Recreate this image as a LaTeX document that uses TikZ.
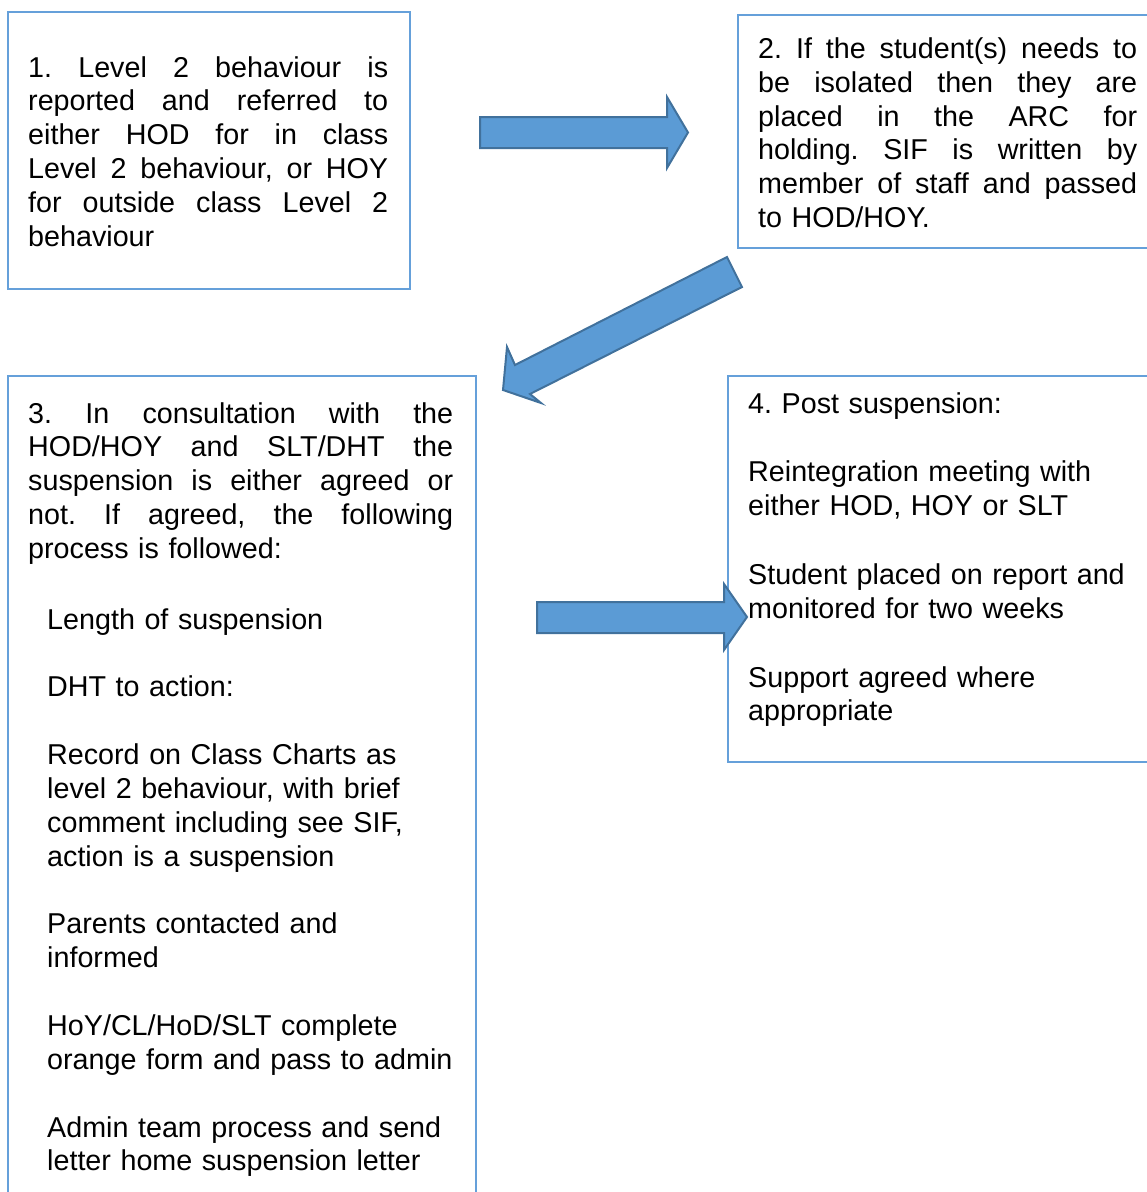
\documentclass[tikz,border=0pt]{standalone}
\usepackage{fontspec}
\setmainfont{Liberation Sans}
\definecolor{boxblue}{RGB}{101,160,218}
\definecolor{arrowfill}{RGB}{91,155,213}
\definecolor{arrowline}{RGB}{65,113,156}
\newcommand{\jline}[2]{\leavevmode\hbox to #1{\frenchspacing\spaceskip=0.278em plus 1fil\relax #2}}
\begin{document}
\begin{tikzpicture}[x=1pt,y=-1pt,
  box/.style={draw=boxblue,line width=2pt,rectangle,inner sep=0pt,anchor=north west},
  txt/.style={inner sep=0pt,anchor=base west,align=left,font=\fontsize{28.7}{33.8}\selectfont\frenchspacing},
  blockarrow/.style={fill=arrowfill,draw=arrowline,line width=2pt,line join=miter}]
\clip (0,0) rectangle (1147,1192);
% boxes
\node[box,minimum width=402pt,minimum height=277pt] (b1) at (7,11) {};
\node[box,minimum width=430pt,minimum height=233pt] (b2) at (737,14) {};
\node[box,minimum width=468pt,minimum height=840pt] (b3) at (7,375) {};
\node[box,minimum width=440pt,minimum height=386pt] (b4) at (727,375) {};
% block arrows
\draw[blockarrow] (480,117) -- (667,117) -- (667,97) -- (688,132.5) -- (667,168) -- (667,148) -- (480,148) -- cycle;
\draw[blockarrow] (727,257) -- (742,287) -- (530,394) -- (541,403) -- (503,390) -- (507,347) -- (515,365) -- cycle;
\draw[blockarrow] (537,602) -- (724,602) -- (724,584) -- (747,617) -- (724,650) -- (724,633) -- (537,633) -- cycle;
% texts
\node[txt,text width=360pt] (t1) at (28,77) {%
\jline{360pt}{1. Level 2 behaviour is}\\
\jline{360pt}{reported and referred to}\\
\jline{360pt}{either HOD for in class}\\
\jline{360pt}{Level 2 behaviour, or HOY}\\
\jline{360pt}{for outside class Level 2}\\
behaviour};
\node[txt,text width=379pt] (t2) at (758,58.5) {%
\jline{379pt}{2. If the student(s) needs to}\\
\jline{379pt}{be isolated then they are}\\
\jline{379pt}{placed in the ARC for}\\
\jline{379pt}{holding. SIF is written by}\\
\jline{379pt}{member of staff and passed}\\
to HOD/HOY.};
\node[txt,text width=425pt] (t3) at (28,423) {%
\jline{425pt}{3. In consultation with the}\\
\jline{425pt}{HOD/HOY and SLT/DHT the}\\
\jline{425pt}{suspension is either agreed or}\\
\jline{425pt}{not. If agreed, the following}\\
process is followed:};
\node[txt,text width=420pt] (t3b) at (47,629) {%
Length of suspension\\[34pt]
DHT to action:\\[34pt]
Record on Class Charts as\\
level 2 behaviour, with brief\\
comment including see SIF,\\
action is a suspension\\[34pt]
Parents contacted and\\
informed\\[34pt]
HoY/CL/HoD/SLT complete\\
orange form and pass to admin\\[34pt]
Admin team process and send\\
letter home suspension letter};
\node[txt,text width=400pt] (t4) at (748,413) {%
4. Post suspension:\\[35pt]
Reintegration meeting with\\
either HOD, HOY or SLT\\[35pt]
Student placed on report and\\
monitored for two weeks\\[35pt]
Support agreed where\\
appropriate};
\end{tikzpicture}
\end{document}
